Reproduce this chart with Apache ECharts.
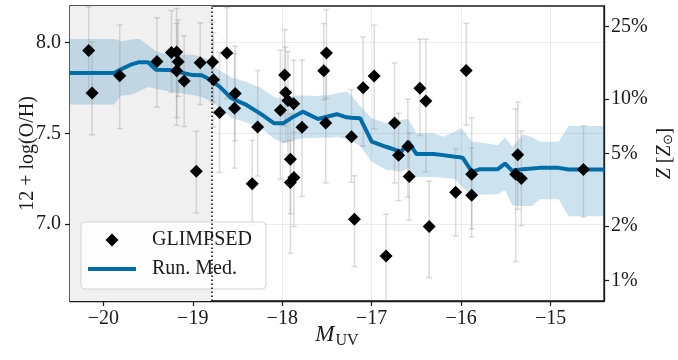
<!DOCTYPE html>
<html><head><meta charset="utf-8">
<script src="https://cdn.jsdelivr.net/npm/echarts@6/dist/echarts.min.js"></script>
<style>html,body{margin:0;padding:0;background:#fff}#c{width:678px;height:360px}</style>
</head><body><div id="c"></div>
<script>
// ---- GLIMPSED galaxies ----
const mUV = [-20.163, -20.125, -19.816, -19.40, -19.238, -19.18, -19.163, -19.18, -19.096, -18.96,
  -18.917, -18.779, -18.768, -18.70, -18.619, -18.525, -18.533, -18.335, -18.275, -18.021,
  -17.973, -17.962, -17.936, -17.872, -17.909, -17.869, -17.909, -17.779, -17.536, -17.506,
  -17.514, -17.226, -17.193, -17.096, -16.973, -16.839, -16.745, -16.70, -16.596, -16.581,
  -16.462, -16.395, -16.358, -16.062, -15.944, -15.883, -15.883, -15.368, -15.391, -15.328, -14.634];
const logOH = [7.956, 7.722, 7.816, 7.895, 7.945, 7.947, 7.893, 7.844, 7.787, 7.292,
  7.888, 7.892, 7.794, 7.615, 7.941, 7.719, 7.638, 7.222, 7.535, 7.627,
  7.820, 7.724, 7.680, 7.662, 7.358, 7.257, 7.230, 7.533, 7.844, 7.941,
  7.557, 7.481, 7.027, 7.750, 7.815, 6.825, 7.557, 7.380, 7.428, 7.263,
  7.748, 7.678, 6.987, 7.176, 7.845, 7.275, 7.160, 7.382, 7.275, 7.252, 7.301];
const errLo = [0.24, 0.23, 0.29, 0.25, 0.22, 0.36, 0.19, 0.30, 0.25, 0.23,
  0.23, 0.22, 0.26, 0.33, 0.25, 0.26, 0.33, 0.23, 0.27, 0.38,
  0.28, 0.27, 0.30, 0.30, 0.30, 0.27, 0.39, 0.38, 0.16, 0.25,
  0.33, 0.25, 0.26, 0.32, 0.29, 0.30, 0.33, 0.25, 0.28, 0.24,
  0.26, 0.39, 0.28, 0.24, 0.30, 0.30, 0.23, 0.30, 0.48, 0.26, 0.26];
const errHi = [0.24, 0.28, 0.28, 0.24, 0.23, 0.24, 0.23, 0.26, 0.25, 0.22,
  0.22, 0.22, 0.26, 0.33, 0.25, 0.26, 0.30, 0.24, 0.31, 0.33,
  0.25, 0.25, 0.27, 0.24, 0.25, 0.25, 0.23, 0.37, 0.26, 0.24,
  0.30, 0.26, 0.24, 0.28, 0.28, 0.23, 0.33, 0.23, 0.26, 0.24,
  0.27, 0.34, 0.25, 0.24, 0.26, 0.31, 0.26, 0.29, 0.36, 0.26, 0.24];

// ---- running median and its band ----
const medM = [-20.38, -19.88, -19.80, -19.70, -19.60, -19.50, -19.41, -19.26, -19.00, -18.90,
  -18.83, -18.70, -18.57, -18.40, -18.24, -18.09, -17.99, -17.88, -17.77, -17.60,
  -17.47, -17.39, -17.28, -17.23, -17.13, -17.00, -16.84, -16.67, -16.59, -16.50,
  -16.31, -16.20, -16.07, -16.01, -15.98, -15.88, -15.79, -15.59, -15.51, -15.43,
  -15.31, -15.21, -15.12, -14.91, -14.80, -14.40];
const medY = [7.831, 7.831, 7.852, 7.876, 7.891, 7.891, 7.849, 7.848, 7.820, 7.819,
  7.801, 7.757, 7.693, 7.656, 7.607, 7.555, 7.555, 7.590, 7.619, 7.579,
  7.595, 7.605, 7.588, 7.586, 7.583, 7.454, 7.426, 7.398, 7.454, 7.386,
  7.386, 7.380, 7.371, 7.368, 7.364, 7.288, 7.303, 7.303, 7.334, 7.294,
  7.303, 7.306, 7.310, 7.310, 7.301, 7.301];
const bandHi = [8.019, 8.019, 8.006, 8.015, 8.020, 7.985, 7.950, 7.932, 7.932, 7.918,
  7.905, 7.845, 7.808, 7.782, 7.750, 7.700, 7.690, 7.707, 7.708, 7.705,
  7.711, 7.720, 7.730, 7.711, 7.650, 7.583, 7.555, 7.575, 7.580, 7.500,
  7.500, 7.481, 7.510, 7.528, 7.520, 7.454, 7.450, 7.435, 7.478, 7.426,
  7.494, 7.480, 7.454, 7.454, 7.540, 7.540];
const bandLo = [7.659, 7.659, 7.706, 7.711, 7.730, 7.754, 7.745, 7.730, 7.711, 7.700,
  7.684, 7.640, 7.585, 7.560, 7.530, 7.470, 7.445, 7.463, 7.473, 7.475,
  7.476, 7.481, 7.470, 7.460, 7.430, 7.343, 7.300, 7.290, 7.308, 7.260,
  7.260, 7.255, 7.250, 7.215, 7.200, 7.159, 7.162, 7.165, 7.187, 7.104,
  7.100, 7.100, 7.137, 7.137, 7.044, 7.044];

// ---- ticks ----
const xTicks = [-20, -19, -18, -17, -16, -15];
const yTicks = [7.0, 7.5, 8.0];
const zTicksPct = [1, 2, 5, 10, 25];
const solarOH = 8.69;
const cutM = -18.79;
const X_MIN = -20.372, X_MAX = -14.404, Y_MIN = 6.578, Y_MAX = 8.2;

const FONT = 'Liberation Serif';
const INK = '#1a1a1a';
const BLUE = '#006ca8';
const zVals = zTicksPct.map(p => solarOH + Math.log10(p / 100));

const chart = echarts.init(document.getElementById('c'), null, {renderer: 'canvas'});

const scatterData = mUV.map((m, i) => [m, logOH[i]]);
const errData = mUV.map((m, i) => [m, logOH[i], errLo[i], errHi[i]]);
const medData = medM.map((m, i) => [m, medY[i]]);

const option = {
  animation: false,
  backgroundColor: '#fff',
  grid: {left: 70, right: 74, top: 6, bottom: 59, show: true, borderColor: INK, borderWidth: 1.3,
    backgroundColor: 'transparent', outerBoundsMode: 'none', containLabel: false},
  xAxis: {
    type: 'value', min: X_MIN, max: X_MAX,
    axisLine: {show: true, lineStyle: {color: INK, width: 1.3}},
    axisTick: {show: true, customValues: xTicks, length: 5, lineStyle: {color: INK, width: 1.2}},
    axisLabel: {customValues: xTicks, fontFamily: FONT, fontSize: 20, color: INK, margin: 8,
      formatter: v => (v < 0 ? '\u2212' : '') + Math.abs(Math.round(v))},
    splitLine: {show: true, lineStyle: {color: 'rgba(0,0,0,0.07)', width: 1}},
    name: '{i|M}{s|UV}', nameLocation: 'middle', nameGap: 20, nameMoveOverlap: false,
    nameTextStyle: {rich: {
      i: {fontFamily: FONT, fontStyle: 'italic', fontSize: 23, color: INK},
      s: {fontFamily: FONT, fontSize: 16, color: INK, padding: [12, 0, 0, 1]}
    }}
  },
  yAxis: [{
    type: 'value', min: Y_MIN, max: Y_MAX, splitNumber: 3,
    axisLine: {show: true, lineStyle: {color: INK, width: 1.3}},
    axisTick: {show: true, customValues: yTicks, length: 5, lineStyle: {color: INK, width: 1.2}},
    axisLabel: {customValues: yTicks, fontFamily: FONT, fontSize: 20, color: INK, margin: 9,
      formatter: v => v.toFixed(1)},
    splitLine: {show: true, lineStyle: {color: 'rgba(0,0,0,0.07)', width: 1}},
    name: '12 + log(O/H)', nameLocation: 'middle', nameGap: 32, nameMoveOverlap: false,
    nameTextStyle: {fontFamily: FONT, fontSize: 20, color: INK}
  }, {
    type: 'value', position: 'right', min: Y_MIN, max: Y_MAX,
    axisLine: {show: true, lineStyle: {color: INK, width: 1.3}},
    axisTick: {show: true, customValues: zVals, length: 5, lineStyle: {color: INK, width: 1.2}},
    axisLabel: {customValues: zVals, fontFamily: FONT, fontSize: 20, color: INK, margin: 7,
      formatter: v => Math.round(100 * Math.pow(10, v - solarOH)) + '%'},
    splitLine: {show: false},
    name: '{i|Z} [{i|Z}{s|\u2299}]', nameLocation: 'middle', nameGap: 50, nameRotate: 90, nameMoveOverlap: false,
    nameTextStyle: {rich: {
      i: {fontFamily: FONT, fontStyle: 'italic', fontSize: 20, color: INK},
      s: {fontFamily: FONT, fontSize: 13, color: INK, padding: [8, 0, 0, 0]}
    }, fontFamily: FONT, fontSize: 20, color: INK}
  }],
  legend: {
    left: 81, top: 222, orient: 'vertical',
    itemWidth: 48, itemHeight: 13, itemGap: 9,
    padding: [8, 14, 10, 7],
    symbolKeepAspect: true,
    backgroundColor: 'rgba(255,255,255,0.85)', borderColor: '#d4d4d4', borderWidth: 1, borderRadius: 4,
    textStyle: {fontFamily: FONT, fontSize: 20, color: INK, padding: [0, 0, 0, 11]},
    data: [
      {name: 'GLIMPSED', icon: 'path://M0,-1L1,0L0,1L-1,0Z', itemStyle: {color: '#000', opacity: 1}},
      {name: 'Run. Med.', icon: 'path://M0,0L48,0L48,4L0,4Z', itemStyle: {color: BLUE}}
    ]
  },
  series: [
    {
      name: 'shade', type: 'line', data: [], silent: true,
      markArea: {silent: true, itemStyle: {color: '#f0f0f0'},
        data: [[{xAxis: X_MIN}, {xAxis: cutM}]]},
      markLine: {silent: true, symbol: ['none', 'none'], label: {show: false},
        lineStyle: {type: [1.5, 2.5], color: '#000', width: 1.5},
        data: [{xAxis: cutM}]}
    },
    {
      name: 'band', type: 'custom', z: 2, silent: true,
      data: [[medM[0], medY[0]]],
      encode: {x: 0, y: 1},
      renderItem: (params, api) => {
        const pts = [];
        for (let i = 0; i < medM.length; i++) pts.push(api.coord([medM[i], bandHi[i]]));
        for (let i = medM.length - 1; i >= 0; i--) pts.push(api.coord([medM[i], bandLo[i]]));
        return {type: 'polygon', shape: {points: pts}, style: {fill: 'rgba(0,108,168,0.2)'}};
      }
    },
    {
      name: 'errors', type: 'custom', z: 3, silent: true, clip: true,
      data: errData, encode: {x: 0, y: 1},
      renderItem: (params, api) => {
        const x = api.value(0), y = api.value(1), lo = api.value(2), hi = api.value(3);
        const t = api.coord([x, y + hi]), b = api.coord([x, y - lo]);
        const st = {stroke: 'rgba(150,150,150,0.33)', lineWidth: 1.5};
        const cw = 3;
        return {type: 'group', children: [
          {type: 'line', shape: {x1: t[0], y1: t[1], x2: b[0], y2: b[1]}, style: st},
          {type: 'line', shape: {x1: t[0] - cw, y1: t[1], x2: t[0] + cw, y2: t[1]}, style: st},
          {type: 'line', shape: {x1: b[0] - cw, y1: b[1], x2: b[0] + cw, y2: b[1]}, style: st}
        ]};
      }
    },
    {
      name: 'Run. Med.', type: 'line', z: 4, data: medData, symbol: 'none', showSymbol: false,
      lineStyle: {color: BLUE, width: 4}, itemStyle: {color: BLUE}
    },
    {
      name: 'GLIMPSED', type: 'scatter', z: 6, data: scatterData,
      symbol: 'diamond', symbolSize: 13, itemStyle: {color: '#000', opacity: 1}
    }
  ]
};
chart.setOption(option);
</script>
</body></html>
